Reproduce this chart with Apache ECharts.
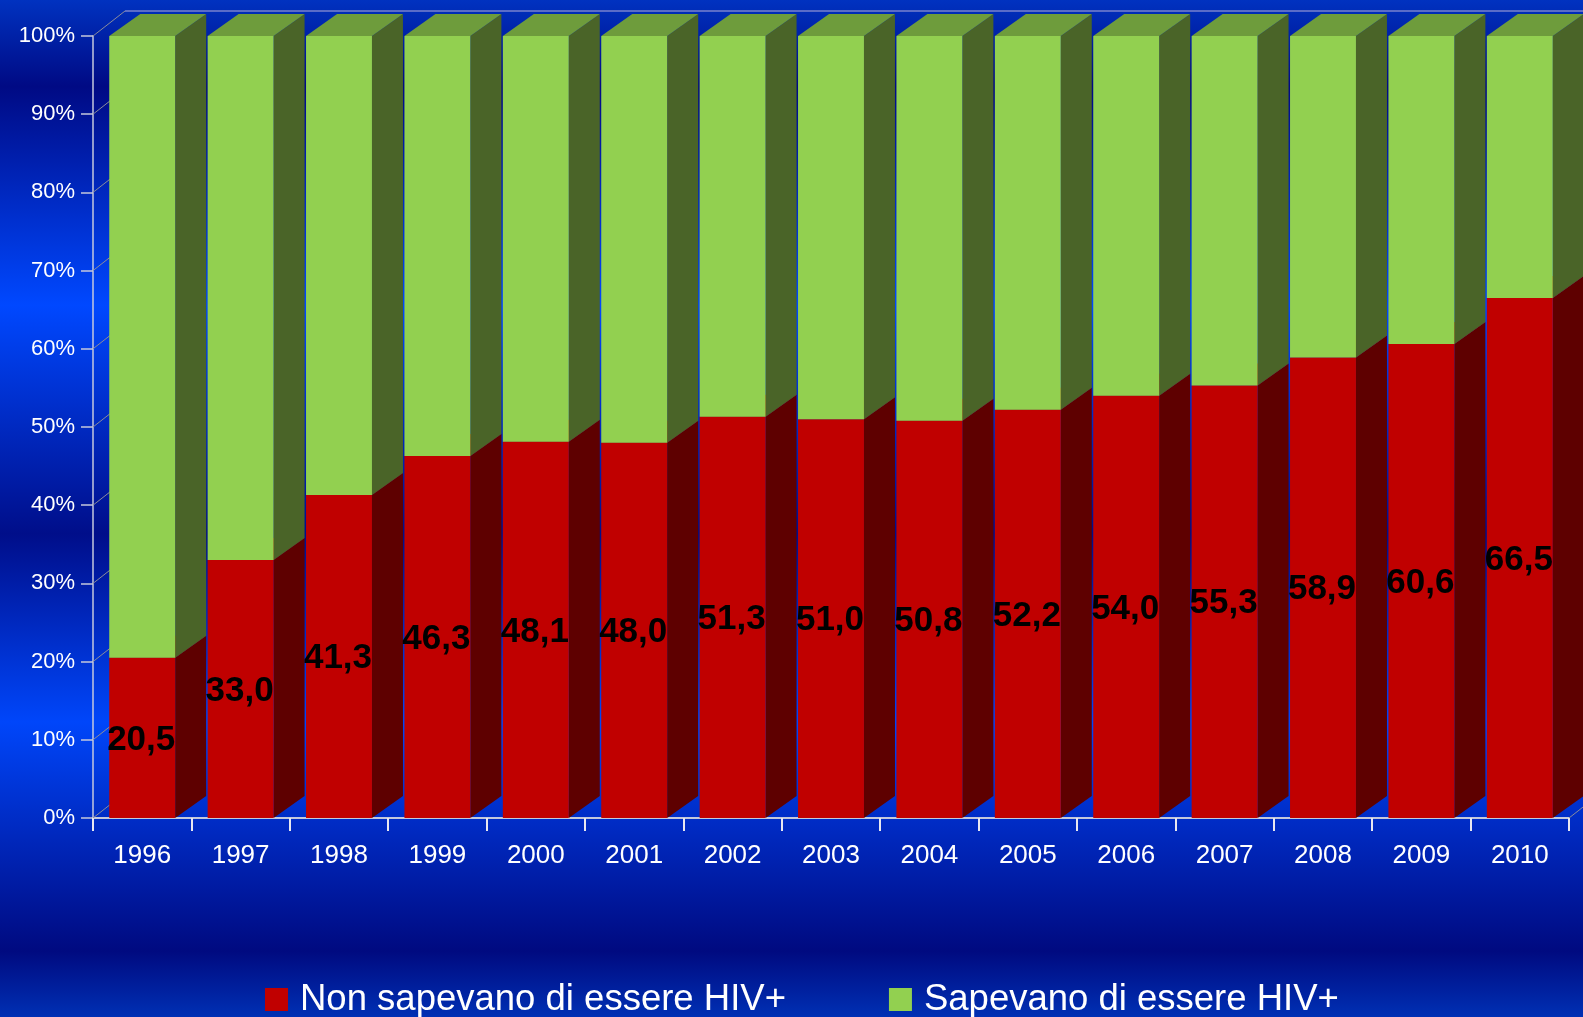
<!DOCTYPE html>
<html>
<head>
<meta charset="utf-8">
<script src="https://cdn.jsdelivr.net/npm/echarts@6/dist/echarts.min.js"></script>
<style>
html,body{margin:0;padding:0;width:1583px;height:1017px;overflow:hidden;}
#chart{width:1583px;height:1017px;}
</style>
</head>
<body>
<div id="chart"></div>
<script>
const years = ['1996','1997','1998','1999','2000','2001','2002','2003','2004','2005','2006','2007','2008','2009','2010'];
const nonSapevano = [20.5, 33.0, 41.3, 46.3, 48.1, 48.0, 51.3, 51.0, 50.8, 52.2, 54.0, 55.3, 58.9, 60.6, 66.5];
const sapevano    = [79.5, 67.0, 58.7, 53.7, 51.9, 52.0, 48.7, 49.0, 49.2, 47.8, 46.0, 44.7, 41.1, 39.4, 33.5];
const yTicks = [0, 10, 20, 30, 40, 50, 60, 70, 80, 90, 100];
const seriesNames = ['Non sapevano di essere HIV+', 'Sapevano di essere HIV+'];

const FONT = 'Liberation Sans, Arial, Helvetica, sans-serif';
const DX = 31, DY = -22;       // bar depth
const WX = 32, WY = -25;       // wall depth

function barRender(colors, withLabel) {
  return function (params, api) {
    const i = api.value(0), lo = api.value(1), hi = api.value(2);
    const pb = api.coord([i, lo]);
    const pt = api.coord([i, hi]);
    const band = api.size([1, 0])[0];
    const w = band * 0.67;
    const cx = pb[0];
    const x0 = cx - w / 2, x1 = cx + w / 2;
    const yb = pb[1], yt = pt[1];
    const children = [
      { type: 'polygon', shape: { points: [[x1, yb], [x1 + DX, yb + DY], [x1 + DX, yt + DY], [x1, yt]] },
        style: { fill: colors.side } },
      { type: 'polygon', shape: { points: [[x0, yt], [x0 + DX, yt + DY], [x1 + DX, yt + DY], [x1, yt]] },
        style: { fill: colors.top } },
      { type: 'rect', shape: { x: x0, y: yt, width: w, height: yb - yt },
        style: { fill: colors.front } }
    ];
    if (withLabel) {
      const v = hi - lo;
      children.push({
        type: 'text', z2: 100,
        style: {
          text: v.toFixed(1).replace('.', ','),
          x: cx - 1, y: (yb + yt) / 2 + 2,
          align: 'center', verticalAlign: 'middle',
          fill: '#000000', font: 'bold 35px ' + FONT
        }
      });
    }
    return { type: 'group', children: children };
  };
}

const redData = nonSapevano.map((v, i) => [i, 0, v]);
const greenData = sapevano.map((v, i) => [i, nonSapevano[i], nonSapevano[i] + v]);

const chart = echarts.init(document.getElementById('chart'), null, { renderer: 'canvas' });
chart.setOption({
  animation: false,
  backgroundColor: {
    type: 'linear', x: 0, y: 0, x2: 0, y2: 1,
    colorStops: [
      { offset: 0.00, color: '#0032c0' },
      { offset: 0.085, color: '#000a84' },
      { offset: 0.30, color: '#0048ff' },
      { offset: 0.525, color: '#000e8a' },
      { offset: 0.71, color: '#0046fa' },
      { offset: 0.935, color: '#000a80' },
      { offset: 1.00, color: '#0030b4' }
    ]
  },
  grid: { left: 93, right: 14, top: 36, bottom: 199, containLabel: false },
  legend: {
    left: 265, top: 981, padding: 0,
    itemWidth: 23, itemHeight: 23, itemGap: 103,
    icon: 'rect',
    data: seriesNames,
    textStyle: { color: '#ffffff', fontSize: 36.5, fontFamily: FONT, padding: [0, 0, 0, 7] }
  },
  xAxis: {
    type: 'category', data: years, boundaryGap: true,
    axisLine: { show: true, lineStyle: { color: '#c4c8dc', width: 2 } },
    axisTick: { show: true, length: 13, interval: 0, lineStyle: { color: '#e8e8f0', width: 2 } },
    axisLabel: { color: '#ffffff', fontSize: 26, fontFamily: FONT, margin: 25, interval: 0 },
    splitLine: { show: false }
  },
  yAxis: {
    type: 'value', min: 0, max: 100, interval: 10,
    axisLine: { show: true, lineStyle: { color: '#c4c8dc', width: 1.5 } },
    axisTick: { show: true, length: 12, lineStyle: { color: '#c4c8dc', width: 1.5 } },
    axisLabel: { color: '#ffffff', fontSize: 22, fontFamily: FONT, margin: 18, formatter: '{value}%' },
    splitLine: { show: false }
  },
  series: [
    {
      name: 'frame', type: 'custom', z: 1, silent: true,
      data: yTicks.map(v => [v]),
      renderItem: function (params, api) {
        const v = api.value(0);
        const band = api.size([1, 0])[0];
        const p = api.coord([0, v]);
        const xl = p[0] - band / 2;
        const children = [
          { type: 'line', shape: { x1: xl, y1: p[1], x2: xl + WX, y2: p[1] + WY },
            style: { stroke: '#8a8c9c', lineWidth: 1 } }
        ];
        if (v === 100) {
          const pr = api.coord([years.length - 1, v]);
          children.push({ type: 'line', shape: { x1: xl + WX, y1: p[1] + WY, x2: pr[0] + band / 2 + WX, y2: p[1] + WY },
            style: { stroke: '#5a6cc8', lineWidth: 2 } });
        }
        if (v === 0) {
          const pr = api.coord([years.length - 1, v]);
          const xr = pr[0] + band / 2;
          children.push({ type: 'line', shape: { x1: xr, y1: p[1], x2: xr + WX, y2: p[1] + WY },
            style: { stroke: '#8a8c9c', lineWidth: 1 } });
        }
        return { type: 'group', children: children };
      }
    },
    {
      name: seriesNames[0], type: 'custom', z: 2,
      itemStyle: { color: '#c00000' },
      data: redData,
      encode: { x: 0, y: [1, 2] },
      renderItem: barRender({ front: '#c00000', side: '#5e0000', top: '#a00000' }, true)
    },
    {
      name: seriesNames[1], type: 'custom', z: 2,
      itemStyle: { color: '#92d050' },
      data: greenData,
      encode: { x: 0, y: [1, 2] },
      renderItem: barRender({ front: '#92d050', side: '#4a6428', top: '#6e9c3c' }, false)
    }
  ]
});
</script>
</body>
</html>
